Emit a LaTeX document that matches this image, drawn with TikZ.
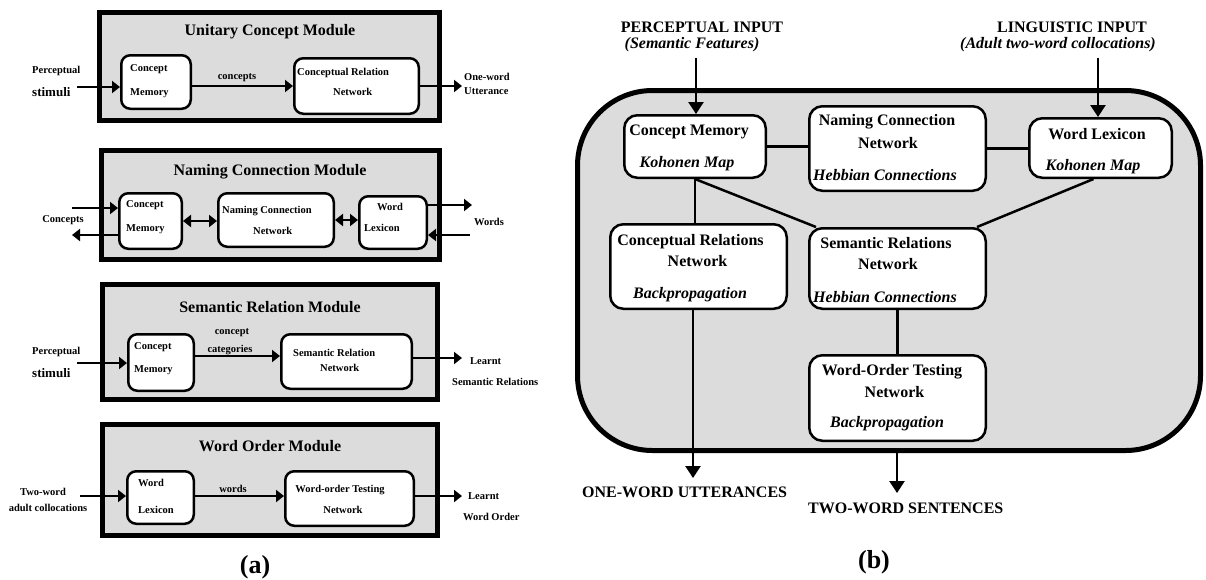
\documentclass[tikz,border=0pt]{standalone}
\usepackage{fontspec}
\setmainfont{Liberation Serif}
\usetikzlibrary{arrows.meta}
\definecolor{bgc}{RGB}{220,220,220}
\begin{document}
\begin{tikzpicture}[x=1pt,y=-1pt,
 modbox/.style={draw,line width=5pt,fill=bgc,inner sep=0pt},
 abox/.style={draw,line width=2.5pt,rounded corners=9pt,fill=white,inner sep=0pt},
 bbox/.style={draw,line width=2.5pt,rounded corners=13pt,fill=white,inner sep=0pt},
 bigbox/.style={draw,line width=5pt,rounded corners=75pt,fill=bgc,inner sep=0pt},
 atxt/.style={font=\fontsize{10.5}{12}\selectfont\bfseries,inner sep=0pt},
 stxt/.style={font=\fontsize{13}{15}\selectfont\bfseries,inner sep=0pt},
 ttl/.style={font=\fontsize{16}{19}\selectfont\bfseries,inner sep=0pt},
 btxt/.style={font=\fontsize{16}{19}\selectfont\bfseries,inner sep=0pt},
 bit/.style={font=\fontsize{16}{19}\selectfont\bfseries\itshape,inner sep=0pt},
 captxt/.style={font=\fontsize{26}{30}\selectfont\bfseries,inner sep=0pt},
 aarr/.style={line width=2.5pt,-{Triangle[width=12pt,length=8pt]}},
 adbl/.style={line width=2.5pt,{Triangle[width=12pt,length=8pt]}-{Triangle[width=12pt,length=8pt]}},
 barr/.style={line width=2.5pt,-{Triangle[width=15pt,length=12pt]}},
 bline/.style={line width=2.5pt}]
\useasboundingbox (0,0) rectangle (1206,579);

% ---------- Module 1 ----------
\node[modbox,minimum width=340pt,minimum height=108pt] (m1) at (269.5,66.5) {};
\node[ttl] (m1t) at (270,32) {Unitary Concept Module};
\node[abox,minimum width=69.5pt,minimum height=53.5pt] (cm1) at (156,82) {};
\node[atxt,anchor=west] (cm1a) at (130,69) {Concept};
\node[atxt,anchor=west] (cm1b) at (130,93) {Memory};
\node[abox,minimum width=124.5pt,minimum height=55.5pt] (crn1) at (356.5,86) {};
\node[atxt,anchor=west] (crn1a) at (297,73) {Conceptual Relation};
\node[atxt,anchor=west] (crn1b) at (333,92) {Network};
\draw[aarr] (cm1.east |- crn1.west) -- (crn1.west);
\node[atxt] (c1lab) at (237,78) {concepts};
\coordinate (o1) at (462,86);
\draw[aarr] (crn1.east) -- (o1);
\node[atxt,anchor=west] (o1a) at (464,77) {One-word};
\node[atxt,anchor=west] (o1b) at (464,91) {Utterance};
\node[atxt,anchor=west] (i1a) at (32,71) {Perceptual};
\node[stxt,anchor=west] (i1b) at (32,92) {stimuli};
\coordinate (i1) at (77,87);
\draw[aarr] (i1) -- (i1 -| cm1.west);

% ---------- Module 2 ----------
\node[modbox,minimum width=338pt,minimum height=109pt] (m2) at (270.5,205) {};
\node[ttl] (m2t) at (270,172) {Naming Connection Module};
\node[abox,minimum width=62.5pt,minimum height=55.5pt] (cm2) at (150.5,221) {};
\node[atxt,anchor=west] (cm2a) at (126,205) {Concept};
\node[atxt,anchor=west] (cm2b) at (126,229) {Memory};
\node[abox,minimum width=115.5pt,minimum height=53.5pt] (ncn) at (276,220) {};
\node[atxt,anchor=west] (ncna) at (222,211) {Naming Connection};
\node[atxt,anchor=west] (ncnb) at (253,231) {Network};
\node[abox,minimum width=67.5pt,minimum height=52.5pt] (wl2) at (393,222.5) {};
\node[atxt] (wl2a) at (390,207) {Word};
\node[atxt] (wl2b) at (382,228) {Lexicon};
\draw[adbl] (cm2.east) -- (cm2.east -| ncn.west);
\draw[adbl] (ncn.east) -- (ncn.east -| wl2.west);
\coordinate (l2i) at (72,208);
\draw[aarr] (l2i) -- (l2i -| cm2.west);
\coordinate (l2o) at (72,235);
\draw[aarr] (cm2.west |- l2o) -- (l2o);
\node[atxt] (l2lab) at (63,220) {Concepts};
\coordinate (r2o) at (472,205);
\draw[aarr] (wl2.east |- r2o) -- (r2o);
\coordinate (r2i) at (470,235);
\draw[aarr] (r2i) -- (r2i -| wl2.east);
\node[atxt] (r2lab) at (489,222) {Words};

% ---------- Module 3 ----------
\node[modbox,minimum width=335pt,minimum height=115pt] (m3) at (270,342) {};
\node[ttl] (m3t) at (270,307) {Semantic Relation Module};
\node[abox,minimum width=65.5pt,minimum height=56.5pt] (cm3) at (161,362.5) {};
\node[atxt,anchor=west] (cm3a) at (134,347) {Concept};
\node[atxt,anchor=west] (cm3b) at (134,370) {Memory};
\node[abox,minimum width=130.5pt,minimum height=54.5pt] (srn) at (346.5,361.5) {};
\node[atxt,anchor=west] (srna) at (293,353) {Semantic Relation};
\node[atxt,anchor=west] (srnb) at (320,368) {Network};
\coordinate (k3) at (200,356);
\draw[aarr] (cm3.east |- k3) -- (srn.west |- k3);
\node[atxt] (c3a) at (232,333) {concept};
\node[atxt] (c3b) at (230,350) {categories};
\coordinate (o3) at (462,358);
\draw[aarr] (srn.east |- o3) -- (o3);
\node[atxt,anchor=west] (o3a) at (470,361) {Learnt};
\node[atxt,anchor=west] (o3b) at (452,382) {Semantic Relations};
\node[atxt,anchor=west] (i3a) at (32,352) {Perceptual};
\node[stxt,anchor=west] (i3b) at (32,373) {stimuli};
\coordinate (i3) at (77,363);
\draw[aarr] (i3) -- (i3 -| cm3.west);

% ---------- Module 4 ----------
\node[modbox,minimum width=335pt,minimum height=111pt] (m4) at (270,480) {};
\node[ttl] (m4t) at (270,446) {Word Order Module};
\node[abox,minimum width=66.5pt,minimum height=52.5pt] (wl4) at (160.5,497.5) {};
\node[atxt] (wl4a) at (151,483) {Word};
\node[atxt] (wl4b) at (156,510) {Lexicon};
\node[abox,minimum width=128.5pt,minimum height=54.5pt] (wot) at (349.5,498.5) {};
\node[atxt] (wota) at (340,490) {Word-order Testing};
\node[atxt] (wotb) at (343,510) {Network};
\coordinate (k4) at (200,496);
\draw[aarr] (wl4.east |- k4) -- (wot.west |- k4);
\node[atxt] (w4lab) at (233,489) {words};
\coordinate (o4) at (462,496);
\draw[aarr] (wot.east |- o4) -- (o4);
\node[atxt,anchor=west] (o4a) at (468,496) {Learnt};
\node[atxt,anchor=west] (o4b) at (463,517) {Word Order};
\node[atxt] (i4a) at (43,492) {Two-word};
\node[atxt] (i4b) at (48,508) {adult collocations};
\coordinate (i4) at (80,496);
\draw[aarr] (i4) -- (i4 -| wl4.west);
\node[captxt] (capa) at (255,567) {(a)};

% ---------- Panel (b) ----------
\node[bigbox,minimum width=623pt,minimum height=360pt] (big) at (889,270.5) {};
\node[bbox,minimum width=141.5pt,minimum height=62.5pt] (cmB) at (695,146.5) {};
\node[btxt] (cmBa) at (689,132) {Concept Memory};
\node[bit] (cmBb) at (687,164) {Kohonen Map};
\node[bbox,minimum width=176.5pt,minimum height=84.5pt] (ncnB) at (897.5,148.5) {};
\node[btxt] (ncnBa) at (887,122) {Naming Connection};
\node[btxt] (ncnBb) at (888,143) {Network};
\node[bit] (ncnBc) at (885,175) {Hebbian Connections};
\node[bbox,minimum width=142.5pt,minimum height=59.5pt] (wlB) at (1100.5,148) {};
\node[btxt] (wlBa) at (1097,134) {Word Lexicon};
\node[bit] (wlBb) at (1093,167) {Kohonen Map};
\node[bbox,minimum width=176.5pt,minimum height=84.5pt] (crnB) at (698.5,266.5) {};
\node[btxt] (crnBa) at (690.5,242) {Conceptual Relations};
\node[btxt] (crnBb) at (697.5,261) {Network};
\node[bit] (crnBc) at (690,295) {Backpropagation};
\node[bbox,minimum width=176.5pt,minimum height=80.5pt] (srnB) at (897.5,268.5) {};
\node[btxt] (srnBa) at (886,243) {Semantic Relations};
\node[btxt] (srnBb) at (888,264) {Network};
\node[bit] (srnBc) at (885,297) {Hebbian Connections};
\node[bbox,minimum width=176.5pt,minimum height=85.5pt] (wotB) at (897.5,398) {};
\node[btxt] (wotBa) at (892,372) {Word-Order Testing};
\node[btxt] (wotBb) at (894.5,392) {Network};
\node[bit] (wotBc) at (887,424) {Backpropagation};

\draw[bline] (cmB.east) -- (cmB.east -| ncnB.west);
\draw[bline] (ncnB.east) -- (ncnB.east -| wlB.west);
\draw[bline] (cmB.south) -- (cmB.south |- crnB.north);
\draw[bline] (cmB.south) -- ([xshift=8pt]srnB.north west);
\draw[bline] ([xshift=-7pt]wlB.south) -- ([xshift=-10pt]srnB.north east);
\draw[bline] (srnB.south) -- (wotB.north);
\coordinate (pinB) at (696,58);
\draw[barr] (pinB) -- (pinB |- cmB.north);
\coordinate (linB) at (1098,58);
\draw[barr] (linB) -- (linB |- wlB.north);
\coordinate (o1B) at (693,478);
\draw[barr] (o1B |- crnB.south) -- (o1B);
\coordinate (o2B) at (897,493);
\draw[barr] (o2B |- big.south) -- (o2B);

\node[btxt] (pinBa) at (702,27) {PERCEPTUAL INPUT};
\node[bit] (pinBb) at (692,45) {(Semantic Features)};
\node[btxt] (linBa) at (1072,27) {LINGUISTIC INPUT};
\node[bit] (linBb) at (1058,45) {(Adult two-word collocations)};
\node[btxt,anchor=west] (o1Ba) at (582,492) {ONE-WORD UTTERANCES};
\node[btxt,anchor=west] (o2Ba) at (808,508) {TWO-WORD SENTENCES};
\node[captxt] (capb) at (874,562) {(b)};
\end{tikzpicture}
\end{document}
